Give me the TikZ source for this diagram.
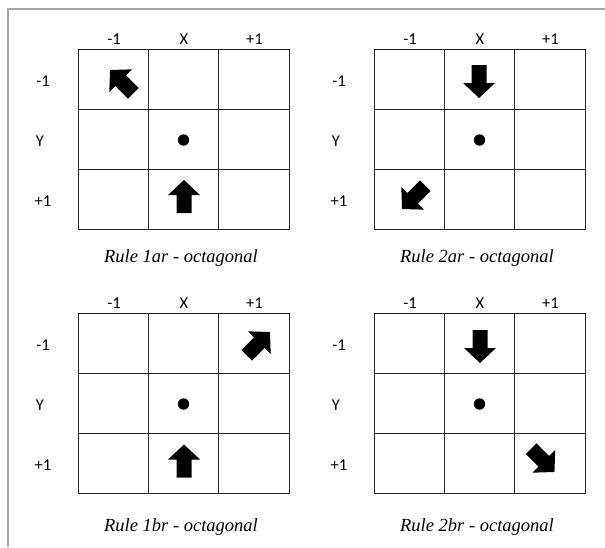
\documentclass[tikz,border=0pt]{standalone}
\usepackage{fontspec}
\setmainfont{Liberation Serif}
\newfontfamily\labfont{Carlito}
\begin{document}
\begin{tikzpicture}[x=1pt,y=-1pt,
  cell/.style={draw=black!85,line width=0.9pt,minimum width=70.33pt,minimum height=60pt,inner sep=0pt,outer sep=0pt},
  lab/.style={font=\labfont\fontsize{16.5}{18}\selectfont,inner sep=0pt},
  captext/.style={font=\itshape\fontsize{18.5}{22}\selectfont,inner sep=0pt},
  frameline/.style={draw=black!35,line width=1.4pt},
  pics/barrow/.style={code={\fill[black,rotate=#1] (16.5,0) -- (1.5,16) -- (1.5,7.5) -- (-16.5,7.5) -- (-16.5,-7.5) -- (1.5,-7.5) -- (1.5,-16) -- cycle;}}]
\useasboundingbox (0,0) rectangle (605,547);
\draw[frameline] (605,9) -- (8,9) -- (8,547);
% grids
\foreach \g/\gx/\gy in {1/78/49,2/374/49,3/78/313,4/374/313}{
  \foreach \i in {0,1,2}{
    \foreach \j in {0,1,2}{
      \node[cell] (g\g c\i\j) at ({\gx+35.17+70.33*\i},{\gy+30+60*\j}) {};
    }
  }
  \node[lab] (g\g colA) at ({\gx+36},{\gy-10}) {-1};
  \node[lab] (g\g colB) at ({\gx+106},{\gy-10}) {X};
  \node[lab] (g\g colC) at ({\gx+176.5},{\gy-10}) {+1};
  \node[lab] (g\g rowA) at ({\gx-35},{\gy+32}) {-1};
  \node[lab] (g\g rowB) at ({\gx-38},{\gy+92}) {Y};
  \node[lab] (g\g rowC) at ({\gx-35},{\gy+152}) {+1};
  \fill[black] (g\g c11.center) ++(0,1) circle (5.7pt);
}
% captions
\node[captext] (cap1) at (181,258) {Rule 1ar - octagonal};
\node[captext] (cap2) at (477,258) {Rule 2ar - octagonal};
\node[captext] (cap3) at (181,527) {Rule 1br - octagonal};
\node[captext] (cap4) at (477,527) {Rule 2br - octagonal};
% arrows
\pic at (184,196.5) {barrow=90};
\pic at (121.7,81.7) {barrow=135};
\pic at (479,81.5) {barrow=-90};
\pic at (413.7,197.3) {barrow=-135};
\pic at (258.3,343.7) {barrow=45};
\pic at (184,461) {barrow=90};
\pic at (480,346.5) {barrow=-90};
\pic at (542.8,460.3) {barrow=-45};
\end{tikzpicture}
\end{document}
